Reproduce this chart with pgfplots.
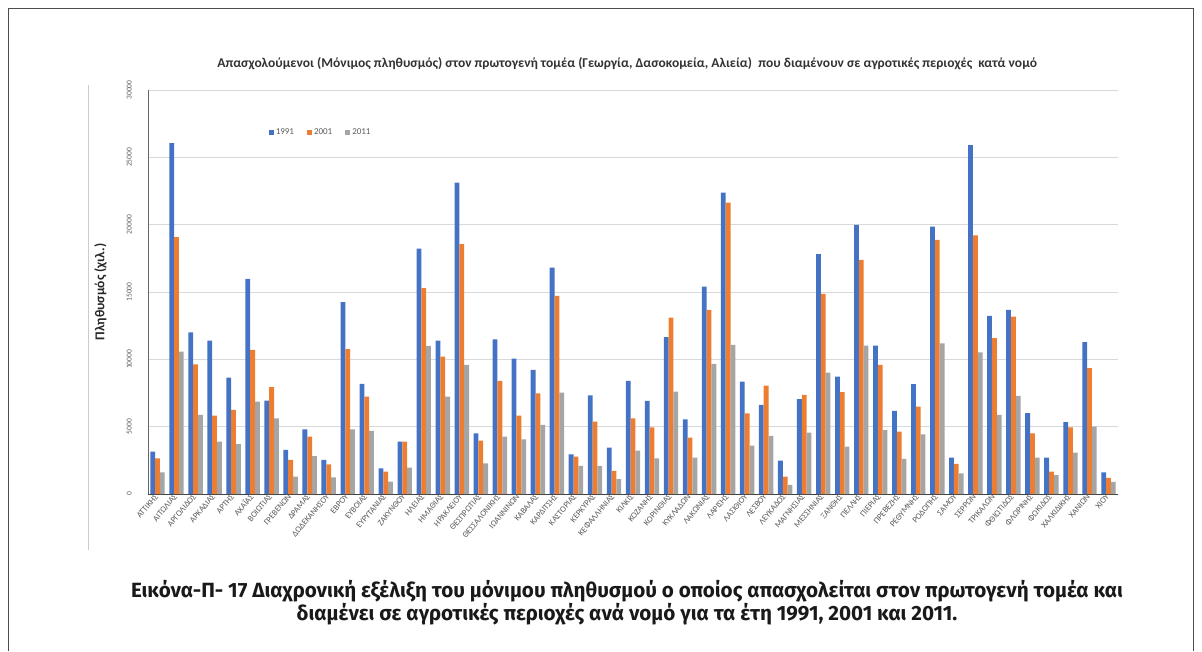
\documentclass[border=0pt]{standalone}
\usepackage{fontspec}
\setmainfont{Carlito}
\newfontfamily\capfont{Fira Sans}
\usepackage{pgfplots}
\usepackage{pgfplotstable}
\pgfplotsset{compat=1.18}

\definecolor{cA}{HTML}{4472C4}
\definecolor{cB}{HTML}{ED7D31}
\definecolor{cC}{HTML}{A5A5A5}
\definecolor{gridc}{HTML}{D9D9D9}
\definecolor{txtc}{HTML}{595959}

% n = nomos (0..50), then 1991, 2001, 2011
\pgfplotstableread{
n  a     b     c
0  3140  2650  1610
1  26050 19070 10570
2  12010 9630  5870
3  11390 5820  3890
4  8640  6240  3710
5  15970 10700 6860
6  6930  7930  5620
7  3270  2530  1290
8  4800  4260  2820
9  2530  2200  1240
10 14240 10750 4800
11 8170  7230  4680
12 1900  1660  920
13 3890  3890  1960
14 18220 15280 11000
15 11390 10200 7230
16 23130 18550 9580
17 4510  3960  2280
18 11490 8400  4260
19 10050 5820  4060
20 9210  7480  5130
21 16810 14710 7530
22 2950  2770  2080
23 7330  5370  2080
24 3440  1710  1110
25 8400  5620  3220
26 6910  4950  2650
27 11640 13100 7600
28 5550  4180  2700
29 15400 13670 9660
30 22380 21640 11070
31 8340  5990  3590
32 6610  8050  4310
33 2480  1290  670
34 7040  7360  4560
35 17810 14860 9010
36 8720  7560  3520
37 19990 17390 11020
38 11020 9580  4750
39 6170  4630  2600
40 8150  6490  4430
41 19860 18870 11190
42 2700  2230  1540
43 25900 19200 10520
44 13220 11570 5870
45 13670 13170 7280
46 6000  4510  2700
47 2700  1660  1410
48 5330  4950  3070
49 11270 9340  5000
50 1610  1200  900
}\nomoi

\begin{document}
\begin{tikzpicture}[x=1pt,y=1pt]
\useasboundingbox (0,0) rectangle (1202,651);
\draw[black!70, line width=0.8pt] (8,0) -- (8,643) -- (1193,643) -- (1193,0);
\draw[black!20, line width=0.8pt] (88,101) -- (88,566);

\begin{axis}[
  at={(148pt,157pt)}, anchor=south west,
  scale only axis, width=970pt, height=404pt,
  xmin=-0.5, xmax=50.5, ymin=0, ymax=30000,
  ybar=0pt, bar width=4.8pt,
  axis x line*=bottom, axis y line*=left,
  x axis line style={black!75, line width=0.8pt},
  y axis line style={black!60, line width=0.8pt},
  ymajorgrids, grid style={gridc, line width=0.7pt},
  major tick length=0pt,
  ytick={0,5000,...,30000},
  scaled y ticks=false,
  /pgf/number format/1000 sep={},
  /pgf/number format/assume math mode=true,
  yticklabel style={rotate=90, anchor=south, font=\fontsize{7.5}{8}\selectfont, text=txtc, inner sep=0pt},
  yticklabel shift=16pt,
  xtick={0,...,50},
  xticklabels={ΑΤΤΙΚΗΣ,ΑΙΤΩΛΙΑΣ,ΑΡΓΟΛΙΔΟΣ,ΑΡΚΑΔΙΑΣ,ΑΡΤΗΣ,ΑΧΑΪΑΣ,ΒΟΙΩΤΙΑΣ,ΓΡΕΒΕΝΩΝ,ΔΡΑΜΑΣ,ΔΩΔΕΚΑΝΗΣΟΥ,ΕΒΡΟΥ,ΕΥΒΟΙΑΣ,ΕΥΡΥΤΑΝΙΑΣ,ΖΑΚΥΝΘΟΥ,ΗΛΕΙΑΣ,ΗΜΑΘΙΑΣ,ΗΡΑΚΛΕΙΟΥ,ΘΕΣΠΡΩΤΙΑΣ,ΘΕΣΣΑΛΟΝΙΚΗΣ,ΙΩΑΝΝΙΝΩΝ,ΚΑΒΑΛΑΣ,ΚΑΡΔΙΤΣΗΣ,ΚΑΣΤΟΡΙΑΣ,ΚΕΡΚΥΡΑΣ,ΚΕΦΑΛΛΗΝΙΑΣ,ΚΙΛΚΙΣ,ΚΟΖΑΝΗΣ,ΚΟΡΙΝΘΙΑΣ,ΚΥΚΛΑΔΩΝ,ΛΑΚΩΝΙΑΣ,ΛΑΡΙΣΗΣ,ΛΑΣΙΘΙΟΥ,ΛΕΣΒΟΥ,ΛΕΥΚΑΔΟΣ,ΜΑΓΝΗΣΙΑΣ,ΜΕΣΣΗΝΙΑΣ,ΞΑΝΘΗΣ,ΠΕΛΛΗΣ,ΠΙΕΡΙΑΣ,ΠΡΕΒΕΖΗΣ,ΡΕΘΥΜΝΗΣ,ΡΟΔΟΠΗΣ,ΣΑΜΟΥ,ΣΕΡΡΩΝ,ΤΡΙΚΑΛΩΝ,ΦΘΙΩΤΙΔΟΣ,ΦΛΩΡΙΝΗΣ,ΦΩΚΙΔΟΣ,ΧΑΛΚΙΔΙΚΗΣ,ΧΑΝΙΩΝ,ΧΙΟΥ},
  xticklabel style={rotate=50, anchor=east, font=\fontsize{8.5}{9}\selectfont, text=txtc, inner sep=1.5pt},
  ylabel={Πληθυσμός (χιλ.)},
  ylabel style={at={(axis description cs:-0.049,0.5)}, anchor=center, rotate=0, font=\fontsize{13.5}{15}\selectfont\bfseries, text=black!85},
  title={Απασχολούμενοι (Μόνιμος πληθυσμός) στον πρωτογενή τομέα (Γεωργία, Δασοκομεία, Αλιεία)\ \ που διαμένουν σε αγροτικές περιοχές\ \ κατά νομό},
  title style={at={(axis description cs:0.494,1.05)}, anchor=center, font=\fontsize{13.5}{15}\selectfont\bfseries, text=black!80},
  legend style={at={(axis description cs:0.178,0.894)}, anchor=center, draw=none, fill=none,
    font=\fontsize{9}{10}\selectfont, text=txtc, legend columns=3,
    /tikz/every even column/.append style={column sep=11pt}},
  legend image code/.code={\fill[#1] (0pt,-2.5pt) rectangle (5pt,2.5pt);},
]
\addplot[fill=cA, draw=none] table[x=n, y=a] {\nomoi};
\addplot[fill=cB, draw=none] table[x=n, y=b] {\nomoi};
\addplot[fill=cC, draw=none] table[x=n, y=c] {\nomoi};
\legend{1991,2001,2011}
\end{axis}

\node[font=\capfont\fontsize{20.6}{23}\selectfont\bfseries, text=black!90, anchor=base] at (627,54)
  {Εικόνα-Π- 17 Διαχρονική εξέλιξη του μόνιμου πληθυσμού ο οποίος απασχολείται στον πρωτογενή τομέα και};
\node[font=\capfont\fontsize{20.6}{23}\selectfont\bfseries, text=black!90, anchor=base] at (627,31)
  {διαμένει σε αγροτικές περιοχές ανά νομό για τα έτη 1991, 2001 και 2011.};
\end{tikzpicture}
\end{document}
